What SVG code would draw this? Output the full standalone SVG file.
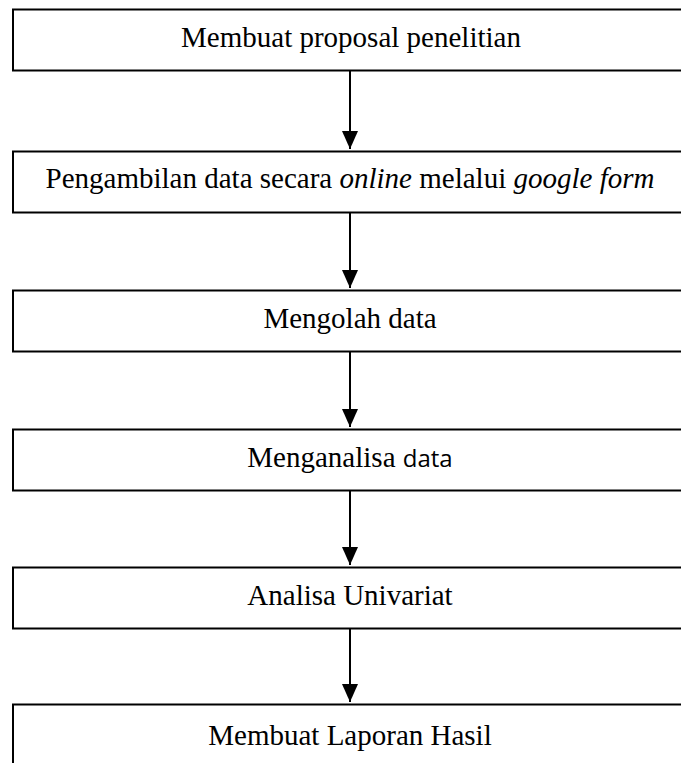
<svg xmlns="http://www.w3.org/2000/svg" width="681" height="763" viewBox="0 0 681 763">
<style>
.box{fill:#fff;stroke:#000;stroke-width:2}
.t{font-family:"Liberation Serif","Times New Roman",serif;font-size:29px;fill:#000;text-anchor:middle}
.i{font-style:italic}
.s{font-family:"Open Sans","Liberation Sans",sans-serif;font-size:24px}
.c{stroke:#000;stroke-width:2;fill:none;marker-end:url(#ah)}
</style>
<defs>
<marker id="ah" markerUnits="userSpaceOnUse" markerWidth="18" markerHeight="16" refX="18" refY="8" orient="auto" viewBox="0 0 18 16">
<path d="M0,0 L18,8 L0,16 Z" fill="#000"/>
</marker>
</defs>
<rect width="681" height="763" fill="#fff"/>
<g id="connectors">
<line class="c" x1="350" y1="71" x2="350" y2="149"/>
<line class="c" x1="350" y1="213" x2="350" y2="288"/>
<line class="c" x1="350" y1="352" x2="350" y2="427"/>
<line class="c" x1="350" y1="491" x2="350" y2="565"/>
<line class="c" x1="350" y1="629" x2="350" y2="702"/>
</g>
<g id="n1"><rect class="box" x="13" y="9.5" width="700" height="61"/><text class="t" x="351" y="46.5">Membuat proposal penelitian</text></g>
<g id="n2"><rect class="box" x="13" y="151.5" width="700" height="61"/><text class="t" x="350" y="188">Pengambilan data secara <tspan class="i">online</tspan> melalui <tspan class="i">google form</tspan></text></g>
<g id="n3"><rect class="box" x="13" y="290.5" width="700" height="61"/><text class="t" x="350" y="328">Mengolah data</text></g>
<g id="n4"><rect class="box" x="13" y="429.5" width="700" height="61"/><text class="t" x="350" y="467">Menganalisa <tspan class="s">data</tspan></text></g>
<g id="n5"><rect class="box" x="13" y="567.5" width="700" height="61"/><text class="t" x="350" y="605">Analisa Univariat</text></g>
<g id="n6"><rect class="box" x="13" y="704.5" width="700" height="80"/><text class="t" x="350" y="745">Membuat Laporan Hasil</text></g>
</svg>
